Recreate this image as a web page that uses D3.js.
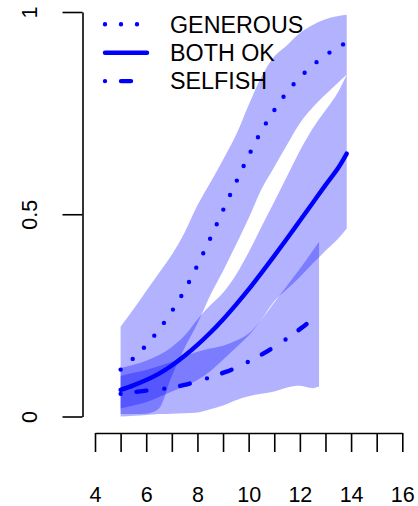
<!DOCTYPE html>
<html>
<head>
    <meta charset="UTF-8">
    <title>Fitted probabilities</title>
    <script src="https://d3js.org/d3.v7.min.js"></script>

    <style type="text/css">
      body{
        margin: 0;
        background-color: white;
      }

      svg{
        display: block;
        background-color: white;
        font-family: "Liberation Sans", Arial, sans-serif;
      }
    </style>
</head>
<body>
    <svg id="chart"></svg>

    <script>

        // x values of the fitted curves
        const xLong  = [5, 5.5, 6, 6.5, 7, 7.5, 8, 8.5, 9, 9.5, 10, 10.5, 11, 11.5, 12, 12.5, 13, 13.5, 13.83];
        const xShort = [5, 5.5, 6, 6.5, 7, 7.5, 8, 8.5, 9, 9.5, 10, 10.5, 11, 11.5, 12, 12.5, 12.75];

        // GENEROUS: fit and interval (on xLong)
        const generousFit  = [0.116, 0.144, 0.176, 0.215, 0.26, 0.312, 0.374, 0.44, 0.51, 0.578, 0.645, 0.706, 0.757, 0.802, 0.838, 0.868, 0.893, 0.913, 0.925];
        const generousHigh = [0.222, 0.265, 0.31, 0.355, 0.4, 0.455, 0.522, 0.578, 0.635, 0.695, 0.77, 0.84, 0.89, 0.918, 0.948, 0.968, 0.982, 0.99, 0.993];
        const generousLow  = [0.006, 0.006, 0.007, 0.02, 0.1, 0.17, 0.23, 0.3, 0.36, 0.424, 0.49, 0.562, 0.617, 0.672, 0.725, 0.764, 0.796, 0.826, 0.845];

        // BOTH OK: fit and interval (on xLong)
        const bothFit  = [0.066, 0.077, 0.09, 0.106, 0.126, 0.15, 0.177, 0.207, 0.24, 0.276, 0.314, 0.355, 0.397, 0.44, 0.484, 0.528, 0.572, 0.615, 0.65];
        const bothHigh = [0.12, 0.128, 0.138, 0.152, 0.172, 0.2, 0.24, 0.275, 0.306, 0.35, 0.406, 0.469, 0.531, 0.594, 0.657, 0.712, 0.757, 0.803, 0.845];
        const bothLow  = [0.02, 0.027, 0.035, 0.048, 0.062, 0.075, 0.09, 0.112, 0.14, 0.17, 0.2, 0.24, 0.285, 0.315, 0.345, 0.378, 0.41, 0.44, 0.465];

        // SELFISH: fit and interval (on xShort)
        const selfishFit  = [0.056, 0.06, 0.064, 0.067, 0.072, 0.078, 0.087, 0.097, 0.108, 0.12, 0.136, 0.153, 0.172, 0.193, 0.216, 0.24, 0.252];
        const selfishHigh = [0.1, 0.108, 0.115, 0.125, 0.135, 0.148, 0.16, 0.168, 0.175, 0.187, 0.205, 0.24, 0.282, 0.323, 0.365, 0.41, 0.432];
        const selfishLow  = [0.0, 0.002, 0.004, 0.006, 0.007, 0.008, 0.01, 0.018, 0.027, 0.04, 0.05, 0.056, 0.062, 0.072, 0.076, 0.07, 0.074];

        const xTicks = [4, 5, 6, 7, 8, 9, 10, 11, 12, 13, 14, 15, 16];
        const xTickLabels = [4, 6, 8, 10, 12, 14, 16];
        const yTicks = [0, 0.5, 1];
        const legendLabels = ["GENEROUS", "BOTH OK", "SELFISH"];

        const width = 418;
        const height = 506;

        const svg = d3.select("#chart")
          .attr("width", width)
          .attr("height", height);

        const x_scale = d3.scaleLinear().domain([4, 16]).range([95, 402.3]);
        const y_scale = d3.scaleLinear().domain([0, 1]).range([416.5, 12]);

        const band_fill = "rgba(0,0,255,0.3)";
        const blue = "#0000ff";

        const series = [
          {x: xLong,  fit: generousFit, lo: generousLow, hi: generousHigh, dash: "0,16"},
          {x: xLong,  fit: bothFit,     lo: bothLow,     hi: bothHigh,     dash: null},
          {x: xShort, fit: selfishFit,  lo: selfishLow,  hi: selfishHigh,  dash: "0,16,10,18"}
        ];

        const area = d3.area()
          .x((d)=>x_scale(d.x))
          .y0((d)=>y_scale(d.lo))
          .y1((d)=>y_scale(d.hi))
          .curve(d3.curveMonotoneX);

        const line = d3.line()
          .x((d)=>x_scale(d.x))
          .y((d)=>y_scale(d.y))
          .curve(d3.curveCatmullRom.alpha(0.5));

        // bands first, lines on top
        series.forEach((s)=>{
          const rows = s.x.map((v, i)=>({x: v, lo: s.lo[i], hi: s.hi[i]}));
          svg.append("path")
            .attr("d", area(rows))
            .attr("fill", band_fill)
            .attr("stroke", "none");
        });

        series.forEach((s)=>{
          const rows = s.x.map((v, i)=>({x: v, y: s.fit[i]}));
          svg.append("path")
            .attr("d", line(rows))
            .attr("fill", "none")
            .attr("stroke", blue)
            .attr("stroke-width", 4.4)
            .attr("stroke-linecap", "round")
            .attr("stroke-dasharray", s.dash);
        });

        // y axis, R style with rotated labels
        const yAxis = svg.append("g")
          .attr("transform", "translate(82.5,0)")
          .call(d3.axisLeft(y_scale)
            .tickValues(yTicks)
            .tickSize(20)
            .tickSizeOuter(0)
            .tickFormat(d3.format("")));

        yAxis.selectAll("text")
          .attr("x", null)
          .attr("dy", null)
          .attr("text-anchor", "middle")
          .attr("transform", "translate(-45.5,0) rotate(-90)");

        // x axis
        const xAxis = svg.append("g")
          .attr("transform", "translate(0,433)")
          .call(d3.axisBottom(x_scale)
            .tickValues(xTicks)
            .tickSize(19)
            .tickSizeOuter(0)
            .tickFormat((d)=> xTickLabels.includes(d) ? d : ""));

        xAxis.selectAll("text")
          .attr("y", 68.5)
          .attr("dy", null);

        svg.selectAll("g").attr("font-family", null).attr("font-size", 21.5);
        svg.selectAll(".domain, .tick line")
          .attr("stroke", "black")
          .attr("stroke-width", 1.6);
        svg.selectAll(".tick text").attr("fill", "black");

        // legend
        const legend = svg.append("g");
        legendLabels.forEach((label, i)=>{
          const cy = 24.3 + i * 28.4;
          legend.append("line")
            .attr("x1", 105).attr("x2", 147)
            .attr("y1", cy).attr("y2", cy)
            .attr("stroke", blue)
            .attr("stroke-width", 4.4)
            .attr("stroke-linecap", "round")
            .attr("stroke-dasharray", series[i].dash);
          legend.append("text")
            .attr("x", 170)
            .attr("y", cy + 8.2)
            .attr("font-size", 23.3)
            .attr("fill", "black")
            .text(label);
        });

    </script>
</body>
</html>
